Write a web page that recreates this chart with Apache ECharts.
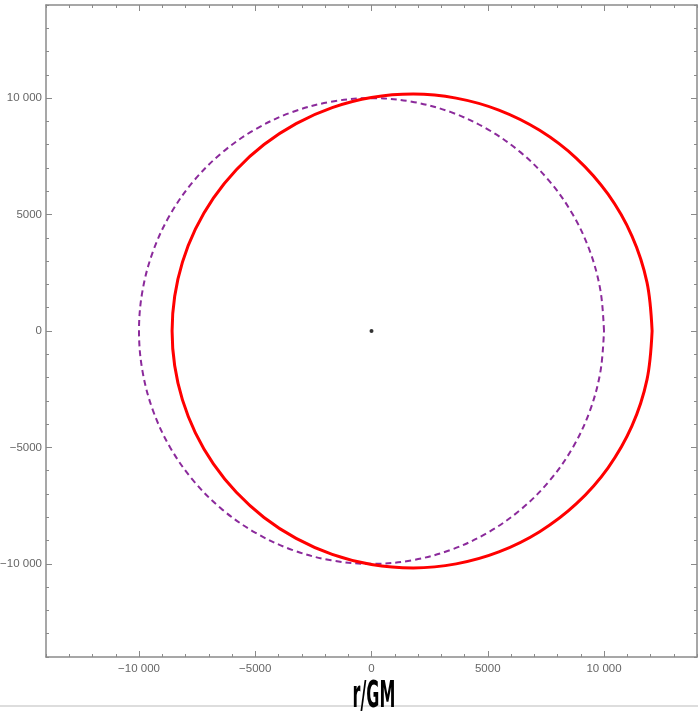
<!DOCTYPE html>
<html>
<head>
<meta charset="utf-8">
<script src="https://cdn.jsdelivr.net/npm/echarts@6/dist/echarts.min.js"></script>
<style>
html,body{margin:0;padding:0;background:#fff;}
#chart{width:698px;height:724px;}
</style>
</head>
<body>
<div id="chart"></div>
<script>
// Axis settings (data units)
const axisMin = -14000;
const axisMax = 14000;
const majorTicks = [-10000, -5000, 0, 5000, 10000];
const minorStep = 1000;

// Purple dashed circle: points (every 10 degrees)
const circleX = [10000, 9848, 9397, 8660, 7660, 6428, 5000, 3420, 1736, 0,
  -1736, -3420, -5000, -6428, -7660, -8660, -9397, -9848, -10000,
  -9848, -9397, -8660, -7660, -6428, -5000, -3420, -1736, 0,
  1736, 3420, 5000, 6428, 7660, 8660, 9397, 9848, 10000];
const circleY = [0, 1736, 3420, 5000, 6428, 7660, 8660, 9397, 9848, 10000,
  9848, 9397, 8660, 7660, 6428, 5000, 3420, 1736, 0,
  -1736, -3420, -5000, -6428, -7660, -8660, -9397, -9848, -10000,
  -9848, -9397, -8660, -7660, -6428, -5000, -3420, -1736, 0];

// Red orbit: points
const orbitX = [12069, 11849, 11203, 10174, 8825, 7232, 5477, 3640, 1794, 0,
  -1691, -3242, -4623, -5814, -6801, -7575, -8131, -8465, -8577,
  -8465, -8131, -7575, -6801, -5814, -4623, -3242, -1691, 0,
  1794, 3640, 5477, 7232, 8825, 10174, 11203, 11849, 12069];
const orbitY = [0, 2089, 4078, 5874, 7405, 8618, 9487, 10001, 10174, 10028,
  9594, 8908, 8007, 6928, 5707, 4374, 2959, 1493, 0,
  -1493, -2959, -4374, -5707, -6928, -8007, -8908, -9594, -10028,
  -10174, -10001, -9487, -8618, -7405, -5874, -4078, -2089, 0];

// Central body
const centerPoint = [[0, 0]];

const annotationText = 'r/GM';

function zip(a, b) { return a.map((v, i) => [v, b[i]]); }

function fmt(v) {
  const a = Math.abs(v);
  let s = String(a);
  if (a >= 10000) s = s.replace(/\B(?=(\d{3})+(?!\d))/g, ' ');
  return (v < 0 ? '\u2212' : '') + s;
}

const frameColor = '#8a8a8a';
const labelStyle = { color: '#666', fontSize: 11.5, fontFamily: 'Liberation Sans, Arial, sans-serif' };

function mkX(gridIndex, pos, major, showLabel) {
  return {
    type: 'value', gridIndex, position: pos, min: axisMin, max: axisMax,
    interval: minorStep,
    axisLine: { show: !major, onZero: false, lineStyle: { color: frameColor, width: 1.5 } },
    axisTick: major
      ? { show: true, inside: true, length: 6, customValues: majorTicks, lineStyle: { color: frameColor, width: 1 } }
      : { show: true, inside: true, length: 3, lineStyle: { color: frameColor, width: 1 } },
    axisLabel: showLabel
      ? Object.assign({ show: true, margin: 6, customValues: majorTicks, formatter: fmt }, labelStyle)
      : { show: false },
    splitLine: { show: false }
  };
}
function mkY(gridIndex, pos, major, showLabel) {
  const o = mkX(gridIndex, pos, major, showLabel);
  if (showLabel) o.axisLabel.margin = 4;
  return o;
}

const gridRect = { left: 46, top: 5, right: 1, bottom: 67, containLabel: false, outerBoundsMode: 'none' };

const chart = echarts.init(document.getElementById('chart'), null, { renderer: 'canvas' });
chart.setOption({
  animation: false,
  backgroundColor: '#ffffff',
  grid: [Object.assign({}, gridRect), Object.assign({}, gridRect)],
  xAxis: [
    mkX(0, 'bottom', false, true),
    mkX(0, 'top', false, false),
    mkX(1, 'bottom', true, false),
    mkX(1, 'top', true, false)
  ],
  yAxis: [
    mkY(0, 'left', false, true),
    mkY(0, 'right', false, false),
    mkY(1, 'left', true, false),
    mkY(1, 'right', true, false)
  ],
  series: [
    {
      type: 'line', xAxisIndex: 0, yAxisIndex: 0,
      data: zip(circleX, circleY), smooth: 0.35, showSymbol: false, symbol: 'none',
      lineStyle: { color: '#8b2a9b', width: 2, type: [6, 4] }, z: 2
    },
    {
      type: 'line', xAxisIndex: 0, yAxisIndex: 0,
      data: zip(orbitX, orbitY), smooth: 0.35, showSymbol: false, symbol: 'none',
      lineStyle: { color: '#ff0000', width: 3 }, z: 3
    },
    {
      type: 'scatter', xAxisIndex: 0, yAxisIndex: 0,
      data: centerPoint, symbol: 'circle', symbolSize: 4,
      itemStyle: { color: '#000' }, z: 4
    }
  ],
  graphic: [
    {
      type: 'line', shape: { x1: 0, y1: 706, x2: 698, y2: 706 },
      style: { stroke: '#dddddd', lineWidth: 2 }, z: 1
    },
    {
      type: 'text', x: 374, y: 697, scaleX: 0.5, scaleY: 1.15,
      style: {
        text: annotationText, fill: '#000', font: 'bold 32px "DejaVu Sans", sans-serif',
        align: 'center', verticalAlign: 'middle'
      }, z: 10
    }
  ]
});
</script>
</body>
</html>
